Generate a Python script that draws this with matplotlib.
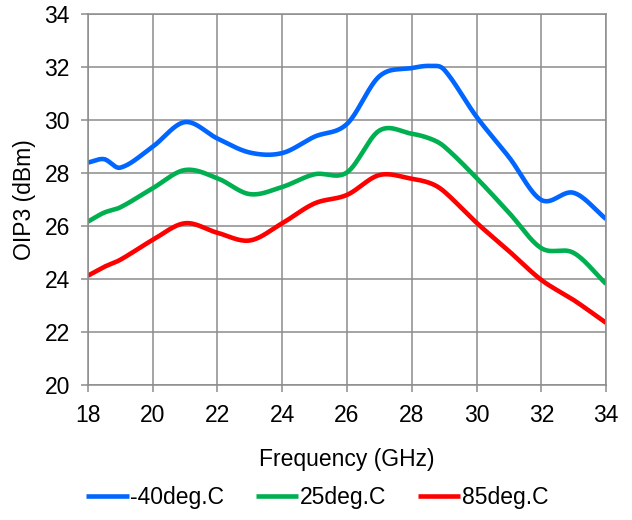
import numpy as np
import matplotlib
matplotlib.use("Agg")
import matplotlib.pyplot as plt

freq = [18, 18.5, 19, 20, 21, 22, 23, 24, 25, 26, 27, 28, 28.6, 29, 30, 31, 32, 33, 34]
oip3_m40 = [28.39, 28.52, 28.2, 28.99, 29.92, 29.3, 28.77, 28.75, 29.37, 29.85, 31.65, 31.96, 32.04,
            31.9, 30.12, 28.6, 26.98, 27.25, 26.26]
oip3_25 = [26.16, 26.5, 26.7, 27.42, 28.11, 27.8, 27.2, 27.47, 27.95, 28.02, 29.6, 29.48, 29.28,
           29.0, 27.81, 26.5, 25.16, 24.98, 23.81]
oip3_85 = [24.12, 24.45, 24.72, 25.47, 26.1, 25.74, 25.45, 26.1, 26.85, 27.17, 27.92, 27.78, 27.6,
           27.3, 26.12, 25.05, 23.96, 23.2, 22.34]

series = [("-40deg.C", oip3_m40, "#0066ff"),
          ("25deg.C", oip3_25, "#00b050"),
          ("85deg.C", oip3_85, "#ff0000")]


def smooth(x, y, n=30):
    # cardinal spline through the points, like a spreadsheet "smoothed line"
    x = np.asarray(x, float)
    y = np.asarray(y, float)
    m = np.empty_like(y)
    m[1:-1] = (y[2:] - y[:-2]) / (x[2:] - x[:-2])
    m[0] = (y[1] - y[0]) / (x[1] - x[0])
    m[-1] = (y[-1] - y[-2]) / (x[-1] - x[-2])
    xs, ys = [], []
    t = np.linspace(0, 1, n, endpoint=False)
    for i in range(len(x) - 1):
        h = x[i + 1] - x[i]
        h00 = 2 * t**3 - 3 * t**2 + 1
        h10 = t**3 - 2 * t**2 + t
        h01 = -2 * t**3 + 3 * t**2
        h11 = t**3 - t**2
        xs.extend(x[i] + t * h)
        ys.extend(h00 * y[i] + h10 * h * m[i] + h01 * y[i + 1] + h11 * h * m[i + 1])
    xs.append(x[-1])
    ys.append(y[-1])
    return xs, ys


plt.rcParams["font.family"] = ["Liberation Sans", "DejaVu Sans"]

fig = plt.figure(figsize=(6.32, 5.2), dpi=100)
ax = fig.add_axes([0.139, 0.26, 0.82, 0.713])

for name, vals, color in series:
    sx, sy = smooth(freq, vals)
    ax.plot(sx, sy, color=color, lw=3.3, label=name, solid_capstyle="butt")

ax.set_xlim(18, 34)
ax.set_ylim(20, 34)
ax.set_xticks(range(18, 35, 2))
ax.set_yticks(range(20, 35, 2))
ax.grid(True, color="#8c8c8c", lw=1.1)
ax.set_axisbelow(True)
for sp in ax.spines.values():
    sp.set_color("#8c8c8c")
    sp.set_linewidth(1.1)
ax.tick_params(colors="#8c8c8c", labelcolor="black", labelsize=16.5, length=5, width=1.1)
ax.tick_params(axis="y", pad=8)
ax.tick_params(axis="x", pad=9)

ax.set_xlabel("Frequency (GHz)", fontsize=16.5, labelpad=15)
ax.set_ylabel("OIP3 (dBm)", fontsize=16.5, labelpad=6)

fig.legend(loc="center", bbox_to_anchor=(0.502, 0.044), ncol=3, frameon=False,
           fontsize=16.5, handlelength=1.85, handletextpad=0.05, columnspacing=1.4)

fig.savefig("out.png", dpi=100)
